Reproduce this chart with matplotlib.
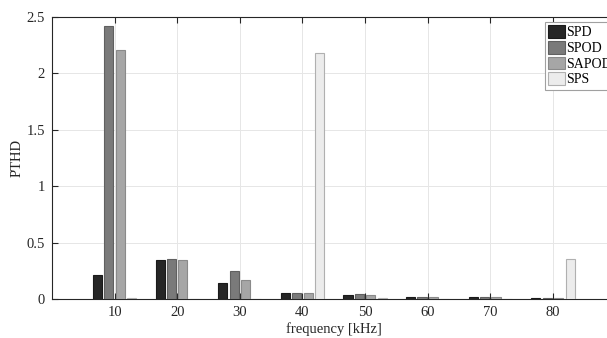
import matplotlib as mpl
mpl.use('Agg')
import matplotlib.pyplot as plt
import numpy as np

## data
freqs = [10, 20, 30, 40, 50, 60, 70, 80]
spd = [0.21, 0.35, 0.14, 0.05, 0.035, 0.02, 0.015, 0.008]
spod = [2.42, 0.355, 0.245, 0.05, 0.045, 0.02, 0.015, 0.008]
sapod = [2.21, 0.35, 0.17, 0.05, 0.035, 0.02, 0.015, 0.008]
sps = [0.005, 0.003, 0.003, 2.18, 0.005, 0.003, 0.003, 0.355]
names = ['SPD', 'SPOD', 'SAPOD', 'SPS']
colors = ['#262626', '#7a7a7a', '#a6a6a6', '#ececec']
edges = ['#1a1a1a', '#606060', '#8a8a8a', '#b0b0b0']

plt.rcParams['font.family'] = ['Liberation Serif', 'DejaVu Serif']
plt.rcParams['font.size'] = 10.5

W, H = 607, 338
fig = plt.figure(figsize=(W/100, H/100), dpi=100)
# axes run past the right edge (the reference image is cropped there)
x0, x1, ytop, ybot = 52, 615.6, 17, 299
ax = fig.add_axes([x0/W, 1-ybot/H, (x1-x0)/W, (ybot-ytop)/H])

# MATLAB style grouped bars
series = [spd, spod, sapod, sps]
n = len(series)
step = 10
groupw = min(0.8, n/(n+1.5)) * step
slot = groupw/n
x = np.array(freqs, dtype=float)
for i, (vals, c, e, lab) in enumerate(zip(series, colors, edges, names)):
    off = (i - (n-1)/2) * slot
    ax.bar(x + off, vals, width=slot*0.8, color=c, edgecolor=e, linewidth=0.8,
           label=lab, zorder=3)

ax.set_xlim(0, 90)
ax.set_ylim(0, 2.5)
ax.set_xticks(freqs)
ax.set_yticks([0, 0.5, 1, 1.5, 2, 2.5])
ax.set_yticklabels(['0', '0.5', '1', '1.5', '2', '2.5'])
ax.grid(True, color='#e6e6e6', linewidth=0.7, zorder=0)
ax.set_axisbelow(True)
ax.tick_params(direction='in', top=True, right=True, length=4, width=0.8,
               color='#262626', labelcolor='#262626', pad=5)
for s in ax.spines.values():
    s.set_color('#262626')
    s.set_linewidth(0.8)

ax.set_xlabel('frequency [kHz]', labelpad=2, color='#262626')
ax.set_ylabel('PTHD', labelpad=2, color='#262626')

leg = ax.legend(loc='upper left', bbox_to_anchor=(545/W, 1-22/H),
                bbox_transform=fig.transFigure, frameon=True, fancybox=False,
                framealpha=1, edgecolor='#a0a0a0', borderpad=0.25,
                handlelength=1.2, handleheight=1.0, handletextpad=0.1,
                labelspacing=0.12, borderaxespad=0, fontsize=10)
leg.get_frame().set_linewidth(0.8)

plt.savefig('out.png', dpi=100)
plt.close(fig)
